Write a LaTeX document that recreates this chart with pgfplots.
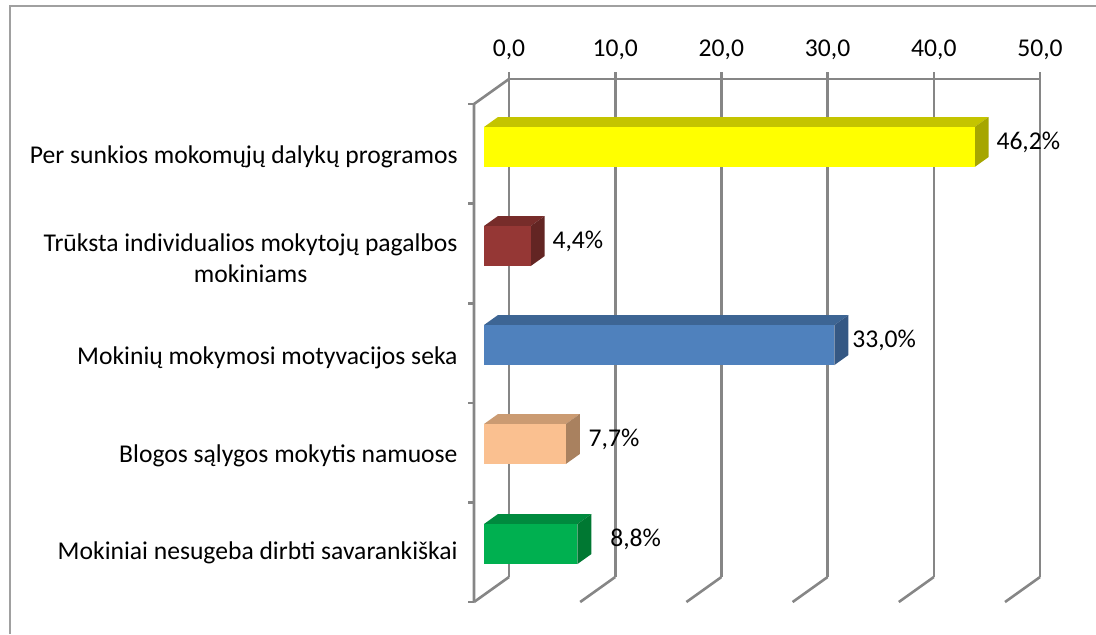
\documentclass[border=0pt]{standalone}
\usepackage{fontspec}
\setmainfont{Carlito}
\usepackage{pgfplots}
\pgfplotsset{compat=1.18}
\definecolor{gridc}{RGB}{134,134,134}
\definecolor{bordc}{RGB}{160,160,160}
\definecolor{yfront}{RGB}{255,255,0}
\definecolor{ytop}{RGB}{196,196,0}
\definecolor{yside}{RGB}{166,166,0}
\definecolor{rfront}{RGB}{149,55,53}
\definecolor{rtop}{RGB}{119,44,42}
\definecolor{rside}{RGB}{99,37,35}
\definecolor{bfront}{RGB}{79,129,189}
\definecolor{btop}{RGB}{61,101,148}
\definecolor{bside}{RGB}{53,88,132}
\definecolor{pfront}{RGB}{250,192,144}
\definecolor{ptop}{RGB}{203,155,114}
\definecolor{pside}{RGB}{169,129,95}
\definecolor{gfront}{RGB}{0,176,80}
\definecolor{gtop}{RGB}{0,138,62}
\definecolor{gside}{RGB}{0,120,50}
\newcommand\lblfont{\fontsize{12.8pt}{15.5pt}\selectfont}
% #1 value, #2 bar centre (px), #3 top, #4 side, #5 front, #6 label xshift
\newcommand\threedbar[6]{%
  \pgfmathsetmacro\bVe{#1}%
  \pgfmathsetmacro\bVd{#1+1.318}%
  \pgfmathsetmacro\bVyt{#2-20}%
  \pgfmathsetmacro\bVyb{#2+20}%
  \pgfmathsetmacro\bVytt{#2-30}%
  \pgfmathsetmacro\bVybb{#2+10}%
  \edef\bVtmp{%
    \noexpand\addplot[fill=#3,draw=none] coordinates {(0,\bVyt) (\bVe,\bVyt) (\bVd,\bVytt) (1.318,\bVytt)} -- cycle;
    \noexpand\addplot[fill=#4,draw=none] coordinates {(\bVe,\bVyt) (\bVd,\bVytt) (\bVd,\bVybb) (\bVe,\bVyb)} -- cycle;
  }\bVtmp
  \addplot[xbar, bar width=20pt, bar shift=0pt, fill=#5, draw=none,
    point meta=x, nodes near coords align={horizontal},
    nodes near coords={\pgfmathprintnumber[fixed,fixed zerofill,precision=1,use comma]{\pgfplotspointmeta}\%},
    every node near coord/.append style={font=\lblfont, text=black, anchor=west, xshift=#6, yshift=2.5pt}]
    coordinates {(#1,#2)};
}
\begin{document}
\begin{tikzpicture}
\pgfplotsset{/pgf/number format/assume math mode=true}
\useasboundingbox (0,0) rectangle (548pt,317pt);
% back wall: grid, top value axis, category labels
\begin{axis}[at={(254.5pt,28.5pt)}, anchor=south west, scale only axis,
  width=265.5pt, height=249pt,
  xmin=0, xmax=50, ymin=79, ymax=577, y dir=reverse,
  axis x line*=top, axis y line*=left,
  x axis line style={gridc, line width=1.3pt},
  y axis line style={draw=none},
  xtick={0,10,20,30,40,50},
  scaled x ticks=false,
  xticklabel style={/pgf/number format/fixed, /pgf/number format/fixed zerofill,
    /pgf/number format/precision=1, /pgf/number format/use comma, yshift=2.5pt},
  tick align=outside, major tick length=3.5pt,
  xtick style={gridc, line width=1.3pt},
  ytick style={draw=none},
  xmajorgrids, grid style={gridc, line width=1.3pt},
  ytick={157,258,358,456,553},
  yticklabels={Per sunkios mokomųjų dalykų programos,
    {Trūksta individualios mokytojų pagalbos\\mokiniams},
    Mokinių mokymosi motyvacijos seka,
    Blogos sąlygos mokytis namuose,
    Mokiniai nesugeba dirbti savarankiškai},
  yticklabel style={align=center, anchor=east, xshift=-18.7pt},
  every tick label/.append style={font=\lblfont, text=black},
]
\addplot[draw=none] coordinates {(0,79) (50,577)};
\end{axis}
% overlay: frame, side wall, floor, bars
\begin{axis}[at={(0pt,0pt)}, anchor=south west, scale only axis,
  width=548pt, height=317pt,
  xmin=-45.574, xmax=57.627, ymin=0, ymax=634, y dir=reverse,
  hide axis, clip=false]
% chart frame
\addplot[bordc, line width=1pt] coordinates {(-44.633,634) (-44.633,6) (57.627,6)};
% floor diagonals
\addplot[gridc, line width=1.3pt] coordinates {(2.354,577) (-0.942,602)};
\addplot[gridc, line width=1.3pt] coordinates {(12.354,577) (9.058,602)};
\addplot[gridc, line width=1.3pt] coordinates {(22.354,577) (19.058,602)};
\addplot[gridc, line width=1.3pt] coordinates {(32.354,577) (29.058,602)};
\addplot[gridc, line width=1.3pt] coordinates {(42.354,577) (39.058,602)};
\addplot[gridc, line width=1.3pt] coordinates {(52.354,577) (49.058,602)};
% side wall
\addplot[gridc, line width=1.3pt] coordinates {(2.354,79) (-0.942,104) (-0.942,602)};
\addplot[gridc, line width=1.3pt] coordinates {(-1.507,104) (-0.942,104)};
\addplot[gridc, line width=1.3pt] coordinates {(-1.507,203.6) (-0.942,203.6)};
\addplot[gridc, line width=1.3pt] coordinates {(-1.507,303.2) (-0.942,303.2)};
\addplot[gridc, line width=1.3pt] coordinates {(-1.507,402.8) (-0.942,402.8)};
\addplot[gridc, line width=1.3pt] coordinates {(-1.507,502.4) (-0.942,502.4)};
\addplot[gridc, line width=1.3pt] coordinates {(-1.507,602) (-0.942,602)};
% bars
\threedbar{46.2}{147}{ytop}{yside}{yfront}{7.4pt}
\threedbar{4.4}{246}{rtop}{rside}{rfront}{7.4pt}
\threedbar{33.0}{345}{btop}{bside}{bfront}{5.4pt}
\threedbar{7.7}{444}{ptop}{pside}{pfront}{7.9pt}
\threedbar{8.8}{544}{gtop}{gside}{gfront}{12.9pt}
\end{axis}
\end{tikzpicture}
\end{document}
